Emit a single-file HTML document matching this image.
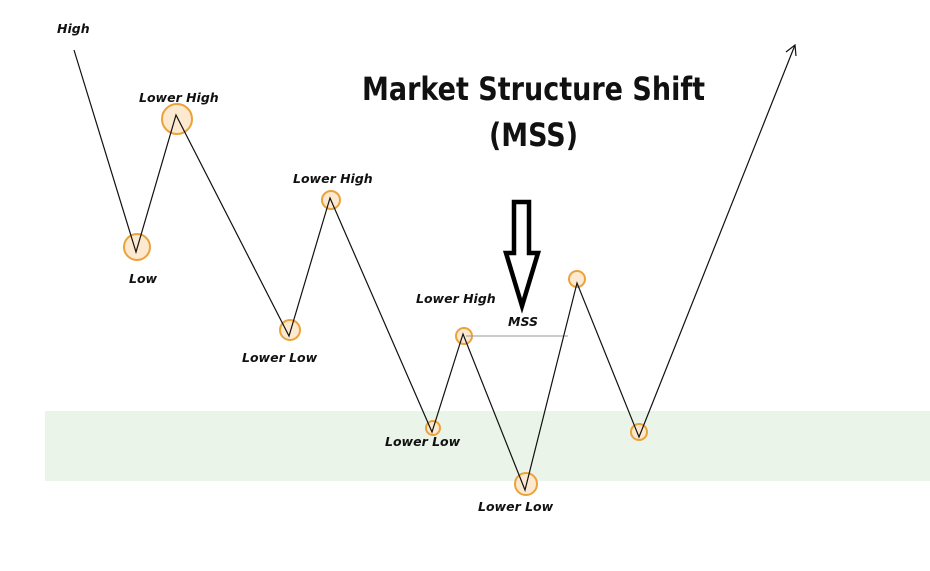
<!DOCTYPE html>
<html><head><style>
body{margin:0;background:#fff;}
svg text{font-family:"DejaVu Sans","Liberation Sans",sans-serif;font-style:italic;font-weight:bold;font-size:12.5px;fill:#111;}
</style></head><body>
<svg width="930" height="566" viewBox="0 0 930 566" xmlns="http://www.w3.org/2000/svg">
<rect x="0" y="0" width="930" height="566" fill="#fff"/>
<rect x="45" y="411" width="885" height="70" fill="#eaf4e8"/>
<g fill="#fde9cf" stroke="#eca23a" stroke-width="2">
<circle cx="137" cy="247" r="13"/>
<circle cx="177" cy="119" r="15"/>
<circle cx="290" cy="330" r="10"/>
<circle cx="331" cy="200" r="9"/>
<circle cx="433" cy="428" r="7"/>
<circle cx="464" cy="336" r="8"/>
<circle cx="526" cy="484" r="11"/>
<circle cx="577" cy="279" r="8"/>
<circle cx="639" cy="432" r="8"/>
</g>
<line x1="466" y1="336" x2="568" y2="336" stroke="#999" stroke-width="1"/>
<polyline points="74,50 136,252 176,115 289,336 330,198 432,432 463,334 525,490 577,283 639,437 795,45" fill="none" stroke="#111" stroke-width="1.2"/>
<polyline points="786,52 795,45 796,56" fill="none" stroke="#111" stroke-width="1.2"/>
<polygon points="514,202 529,202 529,253 538,253 522,306 506,253 514,253" fill="#fff" stroke="#000" stroke-width="4.5" stroke-linejoin="miter"/>
<text x="57" y="33">High</text>
<text x="139" y="102">Lower High</text>
<text x="129" y="283">Low</text>
<text x="293" y="183">Lower High</text>
<text x="242" y="362">Lower Low</text>
<text x="416" y="303">Lower High</text>
<text x="508" y="326">MSS</text>
<text x="385" y="446">Lower Low</text>
<text x="478" y="511">Lower Low</text>
<text x="362" y="100" textLength="343" lengthAdjust="spacingAndGlyphs" style="font-style:normal;font-size:32px;fill:#111">Market Structure Shift</text>
<text x="489" y="146" textLength="89" lengthAdjust="spacingAndGlyphs" style="font-style:normal;font-size:32px;fill:#111">(MSS)</text>
</svg>
</body></html>
